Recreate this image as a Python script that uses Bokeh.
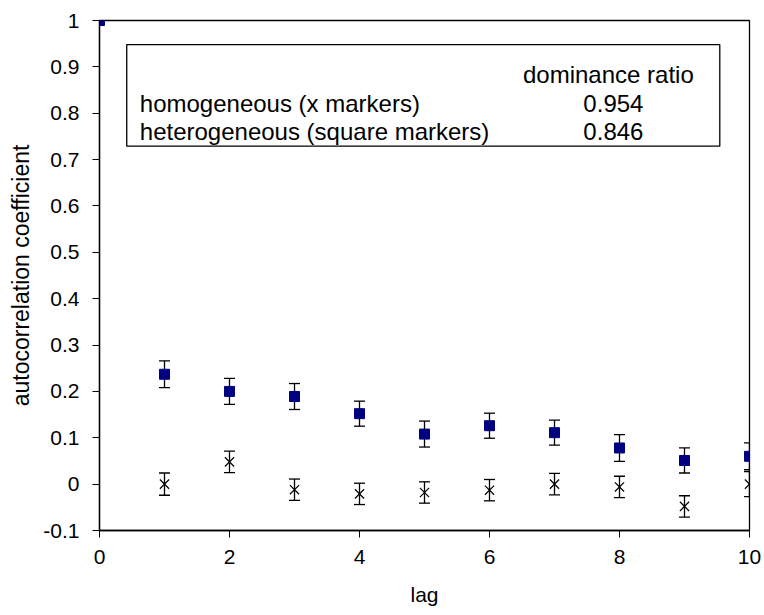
from bokeh.plotting import figure
from bokeh.models import Range1d, FixedTicker, BoxAnnotation, Label
from bokeh.embed import file_html
from bokeh.resources import INLINE

# ---- data ----
lags = [0, 1, 2, 3, 4, 5, 6, 7, 8, 9, 10]
hetero = [1.0, 0.237, 0.200, 0.189, 0.152, 0.108, 0.126, 0.111, 0.078, 0.051, 0.060]
hetero_err = [0.0, 0.029, 0.028, 0.028, 0.027, 0.028, 0.027, 0.027, 0.029, 0.027, 0.029]
homo = [1.0, 0.000, 0.048, -0.012, -0.021, -0.018, -0.013, 0.000, -0.006, -0.048, 0.000]
homo_err = [0.0, 0.024, 0.023, 0.023, 0.023, 0.023, 0.023, 0.023, 0.023, 0.023, 0.027]
x_ticks = [0, 2, 4, 6, 8, 10]
y_ticks = [-0.1, 0, 0.1, 0.2, 0.3, 0.4, 0.5, 0.6, 0.7, 0.8, 0.9, 1]
legend_header = "dominance ratio"
legend_rows = ["homogeneous (x markers)", "heterogeneous (square markers)"]
legend_values = ["0.954", "0.846"]

FONT = "Liberation Sans"
NAVY = "#000080"

p = figure(width=764, height=615, output_backend="svg", toolbar_location=None,
           x_range=Range1d(0, 10), y_range=Range1d(-0.1, 1),
           min_border_left=99, min_border_right=15, min_border_top=20, min_border_bottom=85,
           background_fill_color="white", border_fill_color="white")
p.grid.visible = False
p.outline_line_color = "black"
p.outline_line_width = 1.3

for ax in (p.xaxis[0], p.yaxis[0]):
    ax.axis_line_color = "black"
    ax.axis_line_width = 1.3
    ax.major_tick_line_color = "black"
    ax.major_tick_line_width = 1
    ax.major_tick_in = 0
    ax.major_tick_out = 7
    ax.minor_tick_line_color = None
    ax.major_label_text_font = FONT
    ax.major_label_text_font_size = "21px"
    ax.major_label_text_color = "black"
    ax.axis_label_text_font = FONT
    ax.axis_label_text_font_style = "normal"
    ax.axis_label_text_color = "black"

p.xaxis.axis_label_text_font_size = "21px"
p.yaxis.axis_label_text_font_size = "23px"
p.xaxis.ticker = FixedTicker(ticks=x_ticks)
p.yaxis.ticker = FixedTicker(ticks=y_ticks)
p.yaxis.major_label_overrides = {t: ("%g" % t) for t in y_ticks}
p.xaxis.axis_label = "lag"
p.yaxis.axis_label = "autocorrelation coefficient"
p.xaxis.major_label_standoff = 12
p.yaxis.major_label_standoff = 13
p.xaxis.axis_label_standoff = 16
p.yaxis.axis_label_standoff = 6

# error bars
h_lo = [v - e for v, e in zip(hetero, hetero_err)]
h_hi = [v + e for v, e in zip(hetero, hetero_err)]
o_lo = [v - e for v, e in zip(homo, homo_err)]
o_hi = [v + e for v, e in zip(homo, homo_err)]
err_l = lags[1:]
p.segment(x0=err_l, x1=err_l, y0=h_lo[1:], y1=h_hi[1:], line_color="black", line_width=1.3)
p.segment(x0=err_l, x1=err_l, y0=o_lo[1:], y1=o_hi[1:], line_color="black", line_width=1.3)
for ys in (h_lo[1:], h_hi[1:], o_lo[1:], o_hi[1:]):
    p.scatter(err_l, ys, marker="dash", size=11, line_color="black", line_width=1.3)

# markers
p.scatter(lags, homo, marker="x", size=13, line_color="black", line_width=1.2)
p.scatter(lags, hetero, marker="square", size=10, fill_color=NAVY, line_color=NAVY)
p.scatter(lags[:1], homo[:1], marker="x", size=13, line_color=NAVY, line_width=1.5)

# text box (positions in data units of this fixed frame)
p.add_layout(BoxAnnotation(left=0.419, right=9.543, bottom=0.729, top=0.948,
                           fill_color="white", fill_alpha=1.0,
                           line_color="black", line_alpha=1.0, line_width=1.3,
                           level="underlay"))
p.add_layout(Label(x=9.142, y=0.883, text=legend_header, text_align="right",
                   text_baseline="alphabetic", text_font=FONT, text_font_size="24px",
                   text_color="black"))
row_y = [0.820, 0.761]
for lbl, val, yy in zip(legend_rows, legend_values, row_y):
    p.add_layout(Label(x=0.62, y=yy, text=lbl, text_align="left", text_baseline="alphabetic",
                       text_font=FONT, text_font_size="24px", text_color="black"))
    p.add_layout(Label(x=7.906, y=yy, text=val, text_align="center", text_baseline="alphabetic",
                       text_font=FONT, text_font_size="24px", text_color="black"))

open("out.html", "w").write(file_html(p, INLINE))
